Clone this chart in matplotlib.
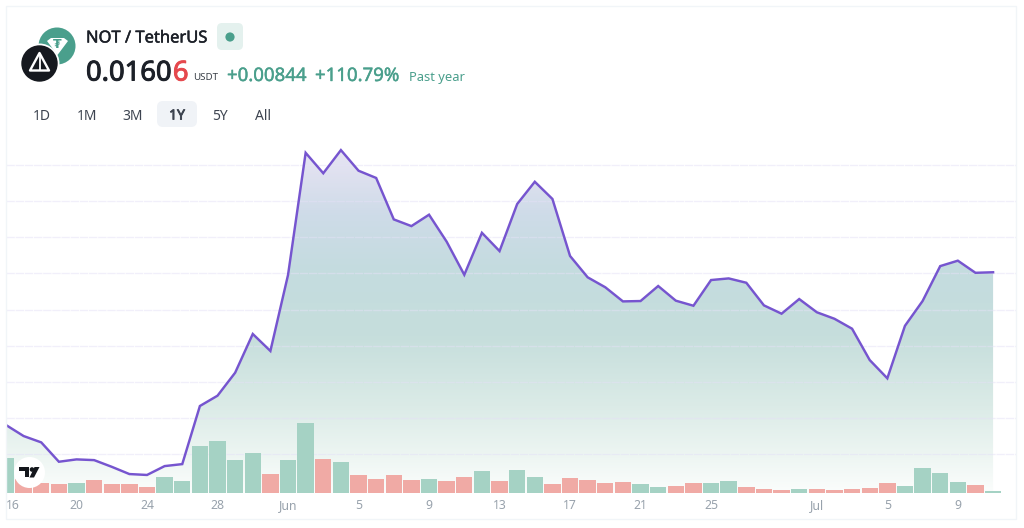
import numpy as np
import matplotlib
matplotlib.use("Agg")
import matplotlib.pyplot as plt
import matplotlib.patheffects as pe
from matplotlib.colors import LinearSegmentedColormap
from matplotlib.patches import FancyBboxPatch, Circle, Polygon, Rectangle

plt.rcParams['font.family'] = ['Noto Sans', 'DejaVu Sans']

# ---- data ----
price = [0.00762, 0.00701, 0.00666, 0.00559, 0.00572, 0.00568, 0.00531, 0.00491, 0.00486, 0.00535,
         0.00546, 0.00867, 0.00924, 0.01051, 0.01265, 0.01171, 0.01591, 0.02266, 0.02153, 0.02281,
         0.02167, 0.02127, 0.01898, 0.01861, 0.01924, 0.01775, 0.01592, 0.01824, 0.01723, 0.01983,
         0.02106, 0.02011, 0.01696, 0.01578, 0.01523, 0.01445, 0.01447, 0.01530, 0.01449, 0.01421,
         0.01563, 0.01572, 0.01548, 0.01423, 0.01377, 0.01458, 0.01385, 0.01349, 0.01294, 0.01121,
         0.01020, 0.01310, 0.01447, 0.01640, 0.01670, 0.01603, 0.01606]
volume = [105, 41, 28, 26, 30, 38, 26, 25, 17, 47, 34, 140, 156, 99, 119, 56, 97, 208, 101, 93,
          53, 40, 52, 38, 42, 34, 47, 66, 34, 68, 47, 25, 45, 39, 29, 32, 26, 18, 20, 28,
          28, 36, 17, 12, 7, 11, 10, 7, 10, 13, 28, 21, 75, 58, 31, 22, 6]
up_days = {0, 4, 9, 10, 11, 12, 13, 14, 16, 17, 19, 24, 27, 29, 30, 36, 37, 40, 41, 45, 51, 52, 53, 54, 56}
tick_pos = [0, 4, 8, 12, 16, 20, 24, 28, 32, 36, 40, 46, 50, 54]
tick_labels = ['16', '20', '24', '28', 'Jun', '5', '9', '13', '17', '21', '25', 'Jul', '5', '9']
grid_levels = [0.006, 0.008, 0.010, 0.012, 0.014, 0.016, 0.018, 0.020, 0.022]
ranges = ['1D', '1M', '3M', '1Y', '5Y', 'All']

W, H = 1024, 528
fig = plt.figure(figsize=(W / 100, H / 100), dpi=100, facecolor='white')

# axes box in pixels
L, R, T, B = 6.0, 1016.0, 130.0, 492.7
ax = fig.add_axes([L / W, 1 - B / H, (R - L) / W, (B - T) / H])
x0, dx = 5.8, 17.63
ax.set_xlim((L - x0) / dx, (R - x0) / dx)
ax.set_ylim(0.00388, 0.02392)
for s in ax.spines.values():
    s.set_visible(False)
ax.patch.set_alpha(0)

x = np.arange(len(price))

# gradient area
poly = ax.fill_between(x, price, ax.get_ylim()[0], color='none', lw=0)
stops = [(0.0, '#e6e4f3'), (0.06, '#e2e2f1'), (0.20, '#cedbe8'), (0.36, '#c4dcdf'),
         (0.55, '#c6dedc'), (0.75, '#dbebe7'), (0.90, '#eef6f3'), (1.0, '#fbfdfc')]
cmap = LinearSegmentedColormap.from_list('area', stops)
g0 = 0.016 + (273.3 - 145) * 5.525e-5
im = ax.imshow(np.linspace(0, 1, 256)[:, None], cmap=cmap, aspect='auto',
               extent=[ax.get_xlim()[0], ax.get_xlim()[1], ax.get_ylim()[0], g0],
               origin='upper', zorder=1, interpolation='bilinear')
ax.set_xlim((L - x0) / dx, (R - x0) / dx)
ax.set_ylim(0.00388, 0.02392)
im.set_clip_path(poly.get_paths()[0], transform=ax.transData)

# gridlines
for g in grid_levels:
    ax.axhline(g, color='#e4e1f6', lw=1.0, alpha=0.5, zorder=2, ls=(0, (6, 0.6)))

ax.plot(x, price, color='#7655cf', lw=1.75, zorder=3, solid_joinstyle='miter')

ax.set_yticks([])
ax.set_xticks(tick_pos)
ax.set_xticklabels(tick_labels, fontsize=8.8, color='#98a2ac', va='baseline')
ax.tick_params(axis='x', length=0, pad=12)
ax.get_xticklabels()[0].set_ha('left')

# volume bars
vx = fig.add_axes(ax.get_position(), sharex=ax)
vx.patch.set_alpha(0)
vx.set_ylim(0, 1089)
vx.axis('off')
colors = ['#a5d2c4' if i in up_days else '#f0aaa5' for i in range(len(volume))]
vx.bar(x, volume, width=0.93, color=colors, lw=0, zorder=4)

# overlay in pixel coordinates (header, logos, card)
ov = fig.add_axes([0, 0, 1, 1], zorder=10)
ov.set_xlim(0, W)
ov.set_ylim(H, 0)
ov.axis('off')
ov.patch.set_alpha(0)


def bold(color, w):
    return [pe.withStroke(linewidth=w, foreground=color)]


ov.add_patch(Rectangle((6, 6), 1010, 513, fill=False, ec='#f1f5f8', lw=1.0))

# logos
teal = '#4a9f8c'
ov.add_patch(Circle((57, 46), 18.5, fc=teal, ec='none'))
ov.add_patch(Polygon([(47, 41), (51, 38), (64, 38), (68, 41), (57.5, 55)], fc='white', ec='none'))
ov.text(57.5, 44.5, '₮', fontsize=9, color=teal, ha='center', va='center', weight='bold', family='DejaVu Sans')
ov.add_patch(Circle((39.5, 63.5), 20, fc='white', ec='none'))
ov.add_patch(Circle((39.5, 63.5), 18.2, fc='#16191f', ec='none'))
ov.add_patch(Polygon([(39.5, 53), (30, 70.5), (49, 70.5)], fc='none', ec='white', lw=1.7, joinstyle='round'))
ov.plot([39.5, 39.5], [54, 70], color='white', lw=1.3)

# title
dark = '#1c2028'
ov.text(86, 38.5, 'NOT / TetherUS', fontsize=11.9, color=dark, va='center', ha='left',
        path_effects=bold(dark, 0.35))
ov.add_patch(FancyBboxPatch((220, 26), 20, 21, boxstyle='round,pad=3,rounding_size=5', fc='#e4f1ee', ec='none'))
ov.add_patch(Circle((230, 37), 4.6, fc=teal, ec='none'))

ov.text(86, 73.5, '0.0160', fontsize=19.7, color=dark, va='center', ha='left', path_effects=bold(dark, 0.7))
ov.text(188.5, 73.5, '6', fontsize=19.7, color='#e5484d', va='center', ha='right',
        path_effects=bold('#e5484d', 0.7))
ov.text(193, 78, 'USDT', fontsize=7, color='#3a4048', va='center', ha='left')
ov.text(227, 76, '+0.00844', fontsize=13.4, color=teal, va='center', ha='left', path_effects=bold(teal, 0.3))
ov.text(315, 76, '+110.79%', fontsize=13.4, color=teal, va='center', ha='left', path_effects=bold(teal, 0.3))
ov.text(409, 77, 'Past year', fontsize=9.3, color=teal, va='center', ha='left')

# range buttons
ov.add_patch(FancyBboxPatch((161, 105), 32, 18, boxstyle='round,pad=4,rounding_size=6', fc='#f0f3f7', ec='none'))
for label, cx in zip(ranges, [42, 87, 132.5, 177, 220, 263]):
    active = label == '1Y'
    ov.text(cx, 116, label, fontsize=10, color='#3d4450', ha='center', va='center',
            path_effects=bold('#3d4450', 0.6) if active else None)

# TradingView logo
ov.add_patch(Circle((29.5, 472.5), 15.5, fc='white', ec='none'))
ov.add_patch(Polygon([(19, 467), (29, 467), (29, 477), (25, 477), (25, 471), (19, 471)], fc='#14171c', ec='none'))
ov.add_patch(Circle((32, 469.5), 2.3, fc='#14171c', ec='none'))
ov.add_patch(Polygon([(34.5, 467), (39.5, 467), (34, 477.5), (29.5, 477.5)], fc='#14171c', ec='none'))

fig.savefig('out.png', dpi=100)
